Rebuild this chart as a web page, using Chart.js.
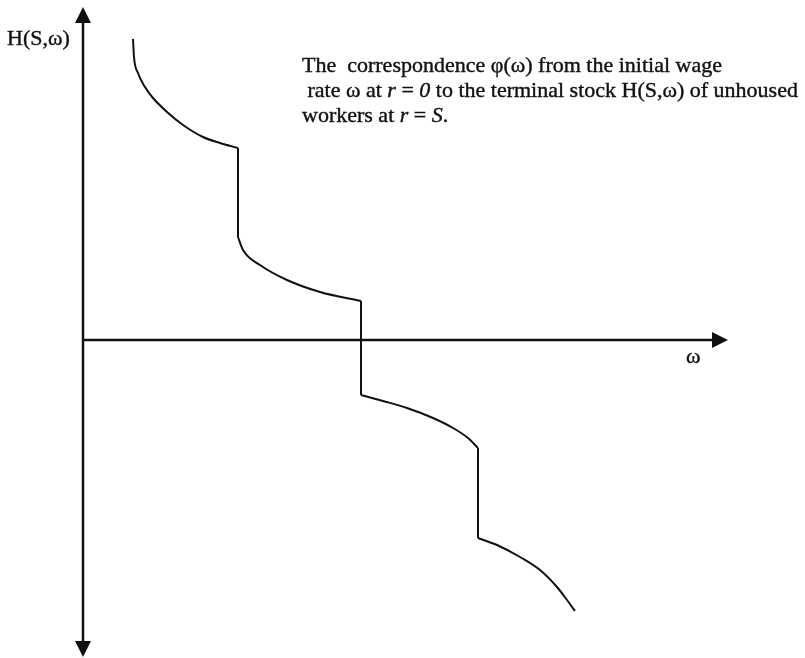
<!DOCTYPE html>
<html>
<head>
<meta charset="utf-8">
<script src="https://cdn.jsdelivr.net/npm/chart.js@4.4.1/dist/chart.umd.min.js"></script>
<style>
    html, body { margin: 0; padding: 0; background: #ffffff; }
    #wrap { width: 805px; height: 658px; }
</style>
</head>
<body>
<div id="wrap"><canvas id="phiChart" width="805" height="658"></canvas></div>
<script>
// branches of the correspondence phi(omega), [omega, H(S,omega)]
const branchA = [[0.50, 3.01], [0.51, 2.83], [0.55, 2.67], [0.62, 2.53], [0.70, 2.42], [0.84, 2.28], [1.00, 2.15], [1.20, 2.03], [1.37, 1.97], [1.55, 1.92]];
const branchB = [[1.55, 1.03], [1.60, 0.90], [1.77, 0.75], [2.04, 0.60], [2.37, 0.48], [2.78, 0.39]];
const branchC = [[2.78, -0.55], [3.00, -0.61], [3.24, -0.68], [3.50, -0.78], [3.70, -0.88], [3.85, -0.98], [3.95, -1.08]];
const branchD = [[3.95, -1.98], [4.14, -2.05], [4.37, -2.17], [4.57, -2.30], [4.74, -2.47], [4.84, -2.60], [4.92, -2.71]];

// axis extents
const omegaAxisEnd = 6.45;
const hAxisTop = 3.33;
const hAxisBottom = -3.17;

const axisLabelY = "H(S,ω)";
const axisLabelX = "ω";
const noteLines = [
    [["The  correspondence φ(ω) from the initial wage", false]],
    [[" rate ω at ", false], ["r", true], [" = ", false], ["0", true], [" to the terminal stock H(S,ω) of unhoused", false]],
    [["workers at ", false], ["r", true], [" = ", false], ["S", true], [".", false]]
];

const toPoints = (arr) => arr.map(([x, y]) => ({ x, y }));
const ink = "#111111";
const serif = "22px 'Liberation Serif', 'DejaVu Serif', serif";

const curve = (arr) => ({
    data: toPoints(arr),
    borderColor: ink,
    borderWidth: 2,
    pointRadius: 0,
    fill: false,
    cubicInterpolationMode: "monotone"
});
const jump = (from, to) => ({
    data: toPoints([from[from.length - 1], to[0]]),
    borderColor: ink,
    borderWidth: 2,
    pointRadius: 0,
    fill: false,
    tension: 0
});

const write = (ctx, text, x, y) => {
    ctx.fillText(text, x, y);
    ctx.strokeText(text, x, y);
};

const axesPlugin = {
    id: "axesPlugin",
    beforeDatasetsDraw(chart) {
        const { ctx, scales: { x, y } } = chart;
        const x0 = x.getPixelForValue(0);
        const y0 = y.getPixelForValue(0);
        const yTop = y.getPixelForValue(hAxisTop);
        const yBot = y.getPixelForValue(hAxisBottom);
        const xEnd = x.getPixelForValue(omegaAxisEnd);
        const head = 16, half = 8;
        ctx.save();
        ctx.strokeStyle = ink;
        ctx.fillStyle = ink;
        ctx.lineWidth = 2.5;
        ctx.beginPath();
        ctx.moveTo(x0, yTop + head - 2);
        ctx.lineTo(x0, yBot - head + 2);
        ctx.moveTo(x0, y0);
        ctx.lineTo(xEnd - head + 2, y0);
        ctx.stroke();
        // arrow heads
        ctx.beginPath();
        ctx.moveTo(x0, yTop);
        ctx.lineTo(x0 - half, yTop + head);
        ctx.lineTo(x0 + half, yTop + head);
        ctx.closePath();
        ctx.moveTo(x0, yBot);
        ctx.lineTo(x0 - half, yBot - head);
        ctx.lineTo(x0 + half, yBot - head);
        ctx.closePath();
        ctx.moveTo(xEnd, y0);
        ctx.lineTo(xEnd - head, y0 - half);
        ctx.lineTo(xEnd - head, y0 + half);
        ctx.closePath();
        ctx.fill();

        // labels
        ctx.lineWidth = 0.4;
        ctx.textBaseline = "alphabetic";
        ctx.font = serif;
        write(ctx, axisLabelY, 7, 45);
        write(ctx, axisLabelX, 686, 363);

        let baseY = 72;
        noteLines.forEach((runs) => {
            let cx = 302;
            runs.forEach(([text, italic]) => {
                ctx.font = (italic ? "italic " : "") + serif;
                write(ctx, text, cx, baseY);
                cx += ctx.measureText(text).width;
            });
            baseY += 25;
        });
        ctx.restore();
    }
};

new Chart(document.getElementById("phiChart").getContext("2d"), {
    type: "line",
    data: {
        datasets: [
            curve(branchA), jump(branchA, branchB),
            curve(branchB), jump(branchB, branchC),
            curve(branchC), jump(branchC, branchD),
            curve(branchD)
        ]
    },
    options: {
        responsive: false,
        animation: false,
        layout: { padding: 0 },
        plugins: { legend: { display: false }, tooltip: { enabled: false } },
        scales: {
            x: { type: "linear", min: -0.83, max: 7.22, display: false },
            y: { type: "linear", min: -3.18, max: 3.40, display: false }
        }
    },
    plugins: [axesPlugin]
});
</script>
</body>
</html>
